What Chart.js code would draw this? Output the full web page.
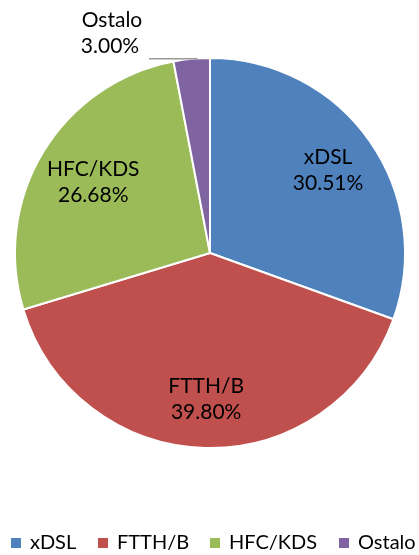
<!DOCTYPE html>
<html>
<head>
<meta charset="utf-8">
<script src="https://cdn.jsdelivr.net/npm/chart.js@4"></script>
<style>
  html, body { margin: 0; padding: 0; background: #fff; }
  #wrap { width: 419px; height: 555px; }
</style>
</head>
<body>
<div id="wrap"><canvas id="pie"></canvas></div>
<script>
// data
var categories = ['xDSL', 'FTTH/B', 'HFC/KDS', 'Ostalo'];
var shares = [30.51, 39.80, 26.68, 3.00];
var colors = ['#4F81BD', '#C0504D', '#9BBB59', '#8064A2'];

var FONT = '21px Lato, "Liberation Sans", sans-serif';
var LEGEND_FONT = '20px Lato, "Liberation Sans", sans-serif';

// labels inside the slices, Ostalo outside with a leader line
var labelPlugin = {
    id: 'sliceLabels',
    afterDatasetsDraw: function (chart) {
        var ctx = chart.ctx;
        var meta = chart.getDatasetMeta(0);
        var radiusFactor = [0.74, 0.75, 0.70];
        ctx.save();
        ctx.font = FONT;
        ctx.fillStyle = '#000';
        ctx.textAlign = 'center';
        ctx.textBaseline = 'middle';
        meta.data.forEach(function (arc, i) {
            var mid = (arc.startAngle + arc.endAngle) / 2;
            var text = shares[i].toFixed(2) + '%';
            if (i < 3) {
                var r = arc.outerRadius * radiusFactor[i];
                var x = arc.x + Math.cos(mid) * r;
                var y = arc.y + Math.sin(mid) * r;
                ctx.fillText(categories[i], x, y - 13);
                ctx.fillText(text, x, y + 13);
            } else {
                var ex = arc.x + Math.cos(mid) * arc.outerRadius;
                var ey = arc.y + Math.sin(mid) * arc.outerRadius;
                ctx.strokeStyle = '#999999';
                ctx.lineWidth = 1.5;
                ctx.beginPath();
                ctx.moveTo(149, ey);
                ctx.lineTo(ex + 6, ey);
                ctx.stroke();
                ctx.fillText(categories[i], 112, ey - 39);
                ctx.fillText(text, 110, ey - 13);
            }
        });
        ctx.restore();
    }
};

// legend row at the bottom
var legendPlugin = {
    id: 'bottomLegend',
    afterDraw: function (chart) {
        var ctx = chart.ctx;
        var xs = [11, 98, 210, 339];
        ctx.save();
        ctx.font = LEGEND_FONT;
        ctx.textBaseline = 'middle';
        ctx.textAlign = 'left';
        categories.forEach(function (name, i) {
            ctx.fillStyle = colors[i];
            ctx.fillRect(xs[i], 538, 10, 10);
            ctx.fillStyle = '#000';
            ctx.fillText(name, xs[i] + 19, 543);
        });
        ctx.restore();
    }
};

var ctx = document.getElementById('pie').getContext('2d');
var pieChart = new Chart(ctx, {
    type: 'pie',
    data: {
        labels: categories,
        datasets: [{
            data: shares,
            backgroundColor: colors,
            borderColor: '#FFFFFF',
            borderWidth: 2
        }]
    },
    options: {
        responsive: true,
        maintainAspectRatio: false,
        animation: false,
        layout: { padding: { top: 57, bottom: 106, left: 14, right: 13 } },
        plugins: {
            legend: { display: false },
            tooltip: { enabled: false }
        }
    },
    plugins: [labelPlugin, legendPlugin]
});
</script>
</body>
</html>
